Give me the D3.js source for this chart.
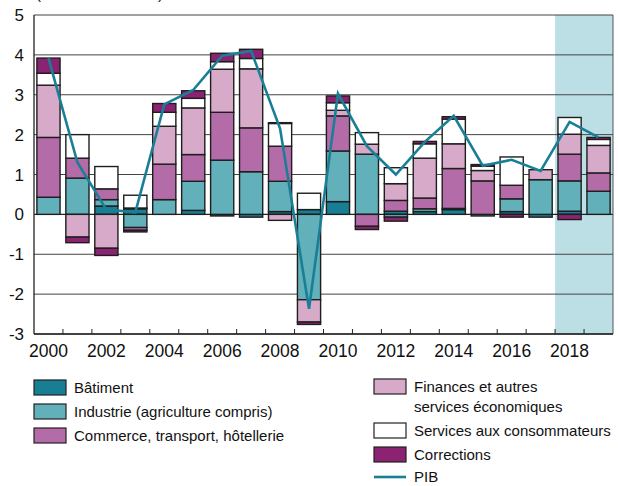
<!DOCTYPE html>
<html>
<head>
<meta charset="utf-8">
<script src="https://cdn.jsdelivr.net/npm/d3@7"></script>
<style>
  body { margin: 0; background: #fff; }
  svg { display: block; font-family: "Liberation Sans", Arial, sans-serif; }
</style>
</head>
<body>
<div id="app"></div>
<script>
// values (contributions in percentage points)
const YEARS = d3.range(2000, 2020);
const BATIMENT = [0, 0, 0.21, 0.14, 0, 0.10, -0.04, -0.07, 0.07, 0.12, 0.32, 0, 0.08, 0.07, 0.12, 0, 0.07, -0.07, 0.08, 0];
const INDUSTRIE = [0.43, 0.91, 0.16, -0.33, 0.37, 0.73, 1.36, 1.07, 0.76, -2.14, 1.27, 1.51, -0.07, 0.07, 0.03, -0.04, 0.32, 0.87, 0.76, 0.58];
const COMMERCE = [1.50, 0.50, 0.27, -0.07, 0.89, 0.67, 1.20, 1.10, 0.88, 0, 0.88, -0.30, 0.27, 0.27, 1.00, 0.84, 0.34, 0, 0.67, 0.46];
const FINANCES = [1.31, -0.57, -0.85, 0.02, 0.95, 1.17, 1.08, 1.48, -0.15, -0.56, 0.14, 0.25, 0.42, 1.00, 0.62, 0.26, 0, 0.25, 0.50, 0.69];
const SERVICES = [0.30, 0.59, 0.56, 0.32, 0.35, 0.24, 0.19, 0.26, 0.57, 0.41, 0.19, 0.29, 0.40, 0.36, 0.62, 0.11, 0.71, 0, 0.42, 0.15];
const CORRECTIONS = [0.38, -0.14, -0.18, -0.04, 0.22, 0.19, 0.21, 0.23, 0.02, -0.06, 0.17, -0.08, -0.10, 0.06, 0.06, 0.04, -0.07, 0, -0.13, 0.05];
const PIB = [3.92, 1.30, 0.12, 0.05, 2.76, 3.12, 3.98, 4.10, 2.15, -2.37, 3.03, 1.71, 1.00, 1.82, 2.47, 1.22, 1.37, 1.09, 2.32, 1.93];
const Y_TICKS = [-3, -2, -1, 0, 1, 2, 3, 4, 5];
const X_LABELS = [2000, 2002, 2004, 2006, 2008, 2010, 2012, 2014, 2016, 2018];
const FORECAST_YEARS = [2018, 2019];

const SERIES = [
  {key: 'bat', label: 'Bâtiment', values: BATIMENT, color: '#177e93'},
  {key: 'ind', label: 'Industrie (agriculture compris)', values: INDUSTRIE, color: '#62b0ba'},
  {key: 'com', label: 'Commerce, transport, hôtellerie', values: COMMERCE, color: '#b46ca8'},
  {key: 'fin', label: ['Finances et autres', 'services économiques'], values: FINANCES, color: '#d7aac9'},
  {key: 'serv', label: 'Services aux consommateurs', values: SERVICES, color: '#ffffff'},
  {key: 'corr', label: 'Corrections', values: CORRECTIONS, color: '#8b2272'}
];

const width = 618;
const height = 486;
const plot = {left: 34, right: 613, top: 15, bottom: 334};
const lineColor = '#1a7f96';

const svg = d3.select('#app')
  .append('svg')
  .attr('width', width)
  .attr('height', height);

// scales
const x = d3.scaleBand()
  .domain(YEARS)
  .range([plot.left, plot.right])
  .paddingInner(0.2)
  .paddingOuter(0.1);
const step = x.step();
const y = d3.scaleLinear()
  .domain([-3, 5])
  .range([plot.bottom, plot.top]);

// shaded forecast years
const shadeX0 = x(FORECAST_YEARS[0]) - step * x.paddingInner() / 2;
svg.append('rect')
  .attr('x', shadeX0)
  .attr('y', plot.top)
  .attr('width', plot.right - shadeX0)
  .attr('height', plot.bottom - plot.top)
  .style('fill', '#bcdfe6');

// gridlines
svg.append('g')
  .selectAll('line')
  .data(Y_TICKS)
  .join('line')
  .attr('x1', plot.left)
  .attr('x2', plot.right)
  .attr('y1', d => y(d))
  .attr('y2', d => y(d))
  .style('stroke', d => d === 0 ? '#222' : '#444')
  .style('stroke-width', d => d === 0 ? 1.4 : 1);

// right border
svg.append('line')
  .attr('x1', plot.right).attr('x2', plot.right)
  .attr('y1', plot.top).attr('y2', plot.bottom)
  .style('stroke', '#555')
  .style('stroke-width', 1);

// stacked bars
const table = YEARS.map((yr, i) => {
  const row = {year: yr};
  SERIES.forEach(s => { row[s.key] = s.values[i]; });
  return row;
});
const stack = d3.stack()
  .keys(SERIES.map(s => s.key))
  .offset(d3.stackOffsetDiverging);
const layers = stack(table);

svg.append('g')
  .selectAll('g')
  .data(layers)
  .join('g')
  .style('fill', (d, i) => SERIES[i].color)
  .selectAll('rect')
  .data(d => d.filter(p => p[1] - p[0] !== 0))
  .join('rect')
  .attr('x', d => x(d.data.year))
  .attr('width', x.bandwidth())
  .attr('y', d => y(Math.max(d[0], d[1])))
  .attr('height', d => Math.abs(y(d[0]) - y(d[1])))
  .style('stroke', '#1e1e1e')
  .style('stroke-width', 1.4);

// PIB line
const line = d3.line()
  .x((d, i) => x(YEARS[i]) + x.bandwidth() / 2)
  .y(d => y(d));
svg.append('path')
  .datum(PIB)
  .attr('d', line)
  .style('fill', 'none')
  .style('stroke', lineColor)
  .style('stroke-width', 2.6)
  .style('stroke-linejoin', 'miter');

// axes
svg.append('line')
  .attr('x1', plot.left).attr('x2', plot.left)
  .attr('y1', plot.top).attr('y2', plot.bottom)
  .style('stroke', '#222').style('stroke-width', 1.3);
svg.append('line')
  .attr('x1', plot.left).attr('x2', plot.right)
  .attr('y1', plot.bottom).attr('y2', plot.bottom)
  .style('stroke', '#222').style('stroke-width', 1.3);

// x ticks between years, pointing inwards
const boundaries = YEARS.slice(1).map(yr => x(yr) - step * x.paddingInner() / 2);
svg.append('g')
  .selectAll('line')
  .data(boundaries)
  .join('line')
  .attr('x1', d => d).attr('x2', d => d)
  .attr('y1', plot.bottom - 5).attr('y2', plot.bottom)
  .style('stroke', '#222').style('stroke-width', 1);

// y labels
svg.append('g')
  .selectAll('text')
  .data(Y_TICKS)
  .join('text')
  .attr('x', 24)
  .attr('y', d => y(d) + 6)
  .attr('text-anchor', 'end')
  .style('font-size', '17px')
  .style('fill', '#111')
  .text(d => d);

// x labels
svg.append('g')
  .selectAll('text')
  .data(X_LABELS)
  .join('text')
  .attr('x', d => x(d) + x.bandwidth() / 2)
  .attr('y', 357)
  .attr('text-anchor', 'middle')
  .style('font-size', '17.5px')
  .style('fill', '#111')
  .text(d => d);

// title, cut off at the top edge as in the original
svg.append('text')
  .attr('x', 36)
  .attr('y', -1)
  .attr('textLength', 127)
  .style('font-size', '15px')
  .style('fill', '#111')
  .text('(variation en %)');

// legend
const legendPos = [
  {x: 34, y: 380}, {x: 34, y: 404}, {x: 34, y: 428},
  {x: 374, y: 379}, {x: 374, y: 423}, {x: 374, y: 447}
];
const legend = svg.append('g').attr('class', 'legend');
SERIES.forEach((s, i) => {
  const p = legendPos[i];
  legend.append('rect')
    .attr('x', p.x)
    .attr('y', p.y)
    .attr('width', 32)
    .attr('height', 15)
    .style('fill', s.color)
    .style('stroke', '#222')
    .style('stroke-width', 1.2);
  const labels = Array.isArray(s.label) ? s.label : [s.label];
  labels.forEach((t, j) => {
    legend.append('text')
      .attr('x', p.x + 40)
      .attr('y', p.y + 13 + j * 20)
      .style('font-size', '15px')
      .style('fill', '#111')
      .text(t);
  });
});
legend.append('line')
  .attr('x1', 374).attr('x2', 406)
  .attr('y1', 477).attr('y2', 477)
  .style('stroke', lineColor)
  .style('stroke-width', 2.6);
legend.append('text')
  .attr('x', 414)
  .attr('y', 482)
  .style('font-size', '15px')
  .style('fill', '#111')
  .text('PIB');
</script>
</body>
</html>
